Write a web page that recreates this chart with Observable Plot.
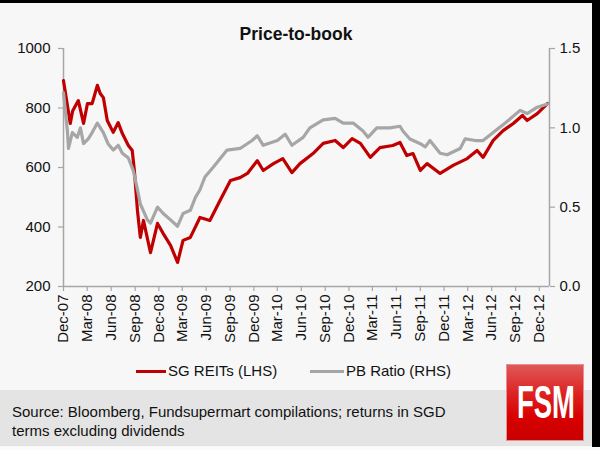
<!DOCTYPE html>
<html>
<head>
<meta charset="utf-8">
<script src="https://cdn.jsdelivr.net/npm/d3@7"></script>
<script src="https://cdn.jsdelivr.net/npm/@observablehq/plot@0.6"></script>
<style>
  body { margin: 0; background: #ffffff; }
  #wrap { position: relative; width: 600px; height: 450px; background: #f7f7f7; overflow: hidden;
          font-family: "Liberation Sans", Arial, sans-serif; color: #111; }
  #topbar { position: absolute; left: 0; top: 0; width: 600px; height: 3px; background: #000; }
  #rightbar { position: absolute; left: 592px; top: 0; width: 8px; height: 447px; background: #000; }
  #bottomstrip { position: absolute; left: 0; top: 447px; width: 600px; height: 3px; background: #fbfbfb; }
  #title { position: absolute; left: 0; width: 592px; top: 24px; text-align: center; font-size: 17.5px;
           line-height: 20px; font-weight: bold; }
  #chart { position: absolute; left: 0; top: 0; }
  .leg { position: absolute; top: 361px; font-size: 15px; line-height: 20px; white-space: nowrap; }
  .legline { position: absolute; top: 370px; height: 3px; }
  #source { position: absolute; left: 0; top: 390px; width: 592px; height: 56px; background: #e4e4e4; }
  #srctext { position: absolute; left: 12px; top: 402px; font-size: 15px; line-height: 19px; white-space: nowrap; }
  #logo { position: absolute; left: 507px; top: 365px; width: 76px; height: 75px;
          background: linear-gradient(to bottom, #e05858 0%, #dc2020 40%, #d80000 70%, #c80000 100%);
          box-shadow: 0 0 0 1px #e89090; }
  #logo svg { overflow: visible; }
</style>
</head>
<body>
<div id="wrap">
  <div id="topbar"></div>
  <div id="rightbar"></div>
  <div id="bottomstrip"></div>
  <div id="source"></div>
  <div id="chart"></div>
  <div id="title">Price-to-book</div>
  <div class="legline" style="left:136px;width:30px;background:#c00000;"></div>
  <div class="leg" style="left:168px;">SG REITs (LHS)</div>
  <div class="legline" style="left:310px;width:34px;background:#a6a6a6;"></div>
  <div class="leg" style="left:346px;">PB Ratio (RHS)</div>
  <div id="srctext">Source: Bloomberg, Fundsupermart compilations; returns in SGD<br>terms excluding dividends</div>
  <div id="logo">
    <svg width="76" height="75">
      <text id="fsm" x="0" y="0" font-family="Liberation Sans Narrow, Liberation Sans, Arial, sans-serif" font-weight="bold"
            font-size="46" fill="#ffffff">FSM</text>
    </svg>
  </div>
</div>
<script>
// ---- data ----
const reitDates = ["2007-12-01","2007-12-27","2008-01-05","2008-01-27","2008-02-16","2008-03-02","2008-03-20",
  "2008-04-09","2008-04-20","2008-05-02","2008-05-17","2008-06-09","2008-06-28","2008-07-14","2008-08-06",
  "2008-08-21","2008-08-29","2008-09-10","2008-09-21","2008-10-03","2008-10-30","2008-11-26","2008-12-18",
  "2009-01-15","2009-02-11","2009-03-04","2009-04-01","2009-05-08","2009-06-15","2009-07-24","2009-09-02",
  "2009-10-09","2009-11-06","2009-12-14","2010-01-06","2010-02-14","2010-03-22","2010-04-26","2010-05-27",
  "2010-07-16","2010-08-24","2010-10-09","2010-11-09","2010-12-13","2011-01-14","2011-02-21","2011-03-30",
  "2011-05-18","2011-06-15","2011-07-11","2011-08-04","2011-09-01","2011-09-27","2011-11-16","2012-01-05",
  "2012-02-28","2012-04-06","2012-04-29","2012-06-07","2012-07-15","2012-08-23","2012-09-27","2012-10-15",
  "2012-11-23","2013-01-01"];
const reitValues = [892,748,790,825,748,815,815,
  876,849,835,758,718,751,714,674,
  657,590,455,365,422,314,412,378,
  338,281,355,365,432,422,489,556,
  566,580,623,590,613,630,583,613,
  647,681,691,667,697,681,634,667,
  674,684,640,647,590,613,580,607,
  630,657,634,691,724,748,775,758,
  781,815];

const pbDates = ["2007-12-01","2007-12-16","2007-12-20","2008-01-04","2008-01-23","2008-02-04","2008-02-16",
  "2008-03-05","2008-03-20","2008-04-09","2008-05-02","2008-05-20","2008-06-09","2008-06-28","2008-07-14",
  "2008-08-06","2008-08-25","2008-09-10","2008-09-21","2008-10-18","2008-10-30","2008-11-26","2008-12-18",
  "2009-01-15","2009-02-11","2009-03-04","2009-04-01","2009-04-20","2009-05-08","2009-05-27","2009-06-27",
  "2009-08-20","2009-10-09","2009-11-24","2009-12-14","2010-01-06","2010-03-01","2010-03-31","2010-04-26",
  "2010-06-08","2010-07-04","2010-08-24","2010-10-09","2010-11-09","2010-12-17","2011-01-24","2011-02-12",
  "2011-03-18","2011-05-07","2011-06-15","2011-06-26","2011-07-23","2011-09-01","2011-09-20","2011-10-08",
  "2011-11-16","2011-12-13","2012-02-01","2012-02-20","2012-03-30","2012-04-29","2012-06-14","2012-07-23",
  "2012-09-18","2012-10-15","2012-11-23","2013-01-01"];
const pbValues = [1.22,0.98,0.87,0.97,0.94,1.00,0.90,
  0.93,0.97,1.03,0.97,0.90,0.86,0.89,0.84,
  0.81,0.73,0.61,0.52,0.42,0.40,0.50,0.46,
  0.42,0.38,0.46,0.48,0.56,0.61,0.69,0.75,
  0.86,0.87,0.92,0.95,0.89,0.92,0.96,0.89,
  0.94,1.00,1.05,1.06,1.03,1.03,0.98,0.94,
  1.00,1.00,1.01,0.98,0.93,0.90,0.88,0.92,
  0.84,0.83,0.87,0.93,0.92,0.92,0.98,1.03,
  1.11,1.09,1.13,1.15];

const xTickDates = ["2007-12-01","2008-03-01","2008-06-01","2008-09-01","2008-12-01","2009-03-01","2009-06-01",
  "2009-09-01","2009-12-01","2010-03-01","2010-06-01","2010-09-01","2010-12-01","2011-03-01","2011-06-01",
  "2011-09-01","2011-12-01","2012-03-01","2012-06-01","2012-09-01","2012-12-01"];
const xTickLabels = ["Dec-07","Mar-08","Jun-08","Sep-08","Dec-08","Mar-09","Jun-09",
  "Sep-09","Dec-09","Mar-10","Jun-10","Sep-10","Dec-10","Mar-11","Jun-11",
  "Sep-11","Dec-11","Mar-12","Jun-12","Sep-12","Dec-12"];
const leftTicks = [200, 400, 600, 800, 1000];
const rightTicks = [0.0, 0.5, 1.0, 1.5];
const xDomain = ["2007-12-01", "2013-01-09"];
const leftDomain = [200, 1000];
const rightDomain = [0, 1.5];

// ---- logo text: squeeze "FSM" to the logo's width ----
(function () {
  const t = document.getElementById("fsm");
  const w = t.getComputedTextLength() || 80;
  const s = 58 / w;
  t.setAttribute("transform", `translate(10,53) scale(${s},1)`);
})();

// ---- build ----
const parse = d3.utcParse("%Y-%m-%d");
const reits = reitDates.map((d, i) => ({date: parse(d), v: reitValues[i]}));
const pb = pbDates.map((d, i) => ({date: parse(d), v: pbValues[i]}));
// map right-axis values onto the left (primary) scale
const toLeft = r => leftDomain[0] + (r - rightDomain[0]) / (rightDomain[1] - rightDomain[0]) * (leftDomain[1] - leftDomain[0]);
const tickDates = xTickDates.map(parse);
const xStart = parse(xDomain[0]), xEnd = parse(xDomain[1]);
const axisGray = "#a6a6a6";

const chart = Plot.plot({
  width: 600,
  height: 370,
  marginLeft: 63,
  marginRight: 51,
  marginTop: 48,
  marginBottom: 84,
  style: {background: "transparent", fontFamily: "'Liberation Sans', Arial, sans-serif", fontSize: "15px", color: "#111"},
  x: {type: "utc", domain: [xStart, xEnd]},
  y: {domain: leftDomain},
  marks: [
    Plot.ruleX([xStart], {y1: leftDomain[0], y2: leftDomain[1], stroke: axisGray, strokeWidth: 1.5}),
    Plot.ruleX([xEnd], {y1: leftDomain[0], y2: leftDomain[1], stroke: axisGray, strokeWidth: 1.5}),
    Plot.ruleY([leftDomain[0]], {x1: xStart, x2: xEnd, stroke: axisGray, strokeWidth: 1.5}),
    Plot.axisY({ticks: leftTicks, tickSize: 5, tickPadding: 8, stroke: axisGray, fill: "#111",
                strokeWidth: 1.2, fontSize: 15, label: null, tickFormat: d => String(d)}),
    Plot.axisY({anchor: "right", ticks: rightTicks.map(toLeft), tickSize: 5, tickPadding: 5,
                stroke: axisGray, fill: "#111", strokeWidth: 1.2, fontSize: 15, label: null,
                tickFormat: d => rightTicks[rightTicks.map(toLeft).indexOf(d)].toFixed(1)}),
    Plot.axisX({ticks: tickDates, tickSize: 5, tickPadding: 3, tickRotate: -90, stroke: axisGray,
                fill: "#111", strokeWidth: 1.2, fontSize: 15, label: null,
                tickFormat: d => xTickLabels[tickDates.findIndex(t => +t === +d)]}),
    Plot.line(reits, {x: "date", y: "v", stroke: "#c00000", strokeWidth: 3.2, strokeLinejoin: "round"}),
    Plot.line(pb, {x: "date", y: d => toLeft(d.v), stroke: "#a6a6a6", strokeWidth: 3.2, strokeLinejoin: "round"})
  ]
});
document.getElementById("chart").appendChild(chart);
</script>
</body>
</html>
